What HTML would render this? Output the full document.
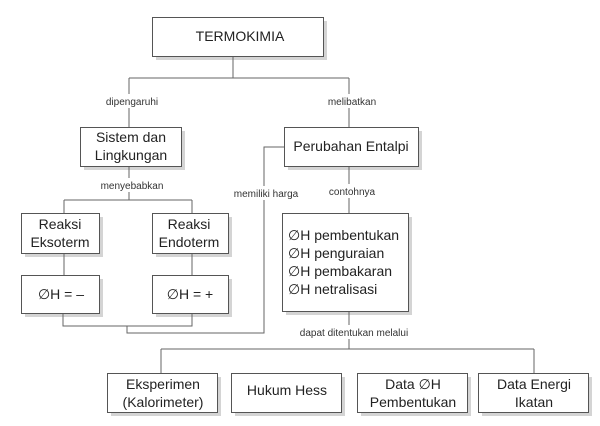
<!DOCTYPE html>
<html><head><meta charset="utf-8"><style>
html,body{margin:0;padding:0;background:#fff;}
svg{display:block;}
text{font-family:"Liberation Sans",sans-serif;fill:#222;}
.b{font-size:14px;}
.l{font-size:10px;fill:#333;}
</style></head><body>
<svg width="600" height="426" viewBox="0 0 600 426" xmlns="http://www.w3.org/2000/svg">
<g fill="#d4d4d4">
<rect x="156" y="21" width="171" height="39"/>
<rect x="84" y="131" width="101" height="39"/>
<rect x="288" y="131" width="134" height="39"/>
<rect x="25" y="217" width="78" height="40"/>
<rect x="156" y="217" width="76" height="40"/>
<rect x="25" y="279" width="78" height="38"/>
<rect x="156" y="279" width="76" height="38"/>
<rect x="286" y="217" width="126" height="98"/>
<rect x="111" y="377" width="110" height="39"/>
<rect x="235" y="377" width="110" height="39"/>
<rect x="361" y="377" width="110" height="39"/>
<rect x="482" y="377" width="110" height="39"/>
</g>
<g fill="none" stroke="#666" stroke-width="1">
<path d="M233 56V78M129 78H349M129 78V127M349 78V127"/>
<path d="M129 166V200M64 200H192M64 200V213M192 200V213"/>
<path d="M64 253V275M192 253V275M63 313V326H192V313M127 326V333H264V147H284"/>
<path d="M349 166V213M349 311V349M161 349H534M161 349V373M534 349V373"/>
</g>
<g fill="#fff" stroke="#555" stroke-width="1">
<rect x="152.5" y="17.5" width="171" height="39"/>
<rect x="80.5" y="127.5" width="101" height="39"/>
<rect x="284.5" y="127.5" width="134" height="39"/>
<rect x="21.5" y="213.5" width="78" height="40"/>
<rect x="152.5" y="213.5" width="76" height="40"/>
<rect x="21.5" y="275.5" width="78" height="38"/>
<rect x="152.5" y="275.5" width="76" height="38"/>
<rect x="282.5" y="213.5" width="126" height="98"/>
<rect x="107.5" y="373.5" width="110" height="39"/>
<rect x="231.5" y="373.5" width="110" height="39"/>
<rect x="357.5" y="373.5" width="110" height="39"/>
<rect x="478.5" y="373.5" width="110" height="39"/>
</g>
<g fill="#fff">
<rect x="100" y="94" width="60" height="14"/>
<rect x="320" y="94" width="60" height="14"/>
<rect x="95" y="178" width="72" height="14"/>
<rect x="322" y="184" width="56" height="14"/>
<rect x="288" y="325" width="130" height="14"/>
<rect x="255" y="186" width="14" height="14"/>
</g>
<g text-anchor="middle">
<text class="b" x="240" y="41" style="font-size:14px">TERMOKIMIA</text>
<text class="l" x="132" y="105">dipengaruhi</text>
<text class="l" x="352" y="105">melibatkan</text>
<text class="b" x="131" y="142">Sistem dan</text>
<text class="b" x="131" y="160">Lingkungan</text>
<text class="b" x="351" y="151">Perubahan Entalpi</text>
<text class="l" x="132" y="189">menyebabkan</text>
<text class="l" x="266" y="197">memiliki harga</text>
<text class="l" x="352" y="195">contohnya</text>
<text class="b" x="60" y="229">Reaksi</text>
<text class="b" x="60" y="247">Eksoterm</text>
<text class="b" x="189" y="229">Reaksi</text>
<text class="b" x="189" y="247">Endoterm</text>
<text class="b" x="61" y="299">∅H = –</text>
<text class="b" x="190" y="299">∅H = +</text>
<text class="l" x="354" y="336">dapat ditentukan melalui</text>
<text class="b" x="163" y="389">Eksperimen</text>
<text class="b" x="163" y="407">(Kalorimeter)</text>
<text class="b" x="287" y="395">Hukum Hess</text>
<text class="b" x="413" y="389">Data ∅H</text>
<text class="b" x="413" y="407">Pembentukan</text>
<text class="b" x="534" y="389">Data Energi</text>
<text class="b" x="534" y="407">Ikatan</text>
</g>
<g>
<text class="b" x="288" y="240">∅H pembentukan</text>
<text class="b" x="288" y="258">∅H penguraian</text>
<text class="b" x="288" y="276">∅H pembakaran</text>
<text class="b" x="288" y="294">∅H netralisasi</text>
</g>
</svg>
</body></html>
